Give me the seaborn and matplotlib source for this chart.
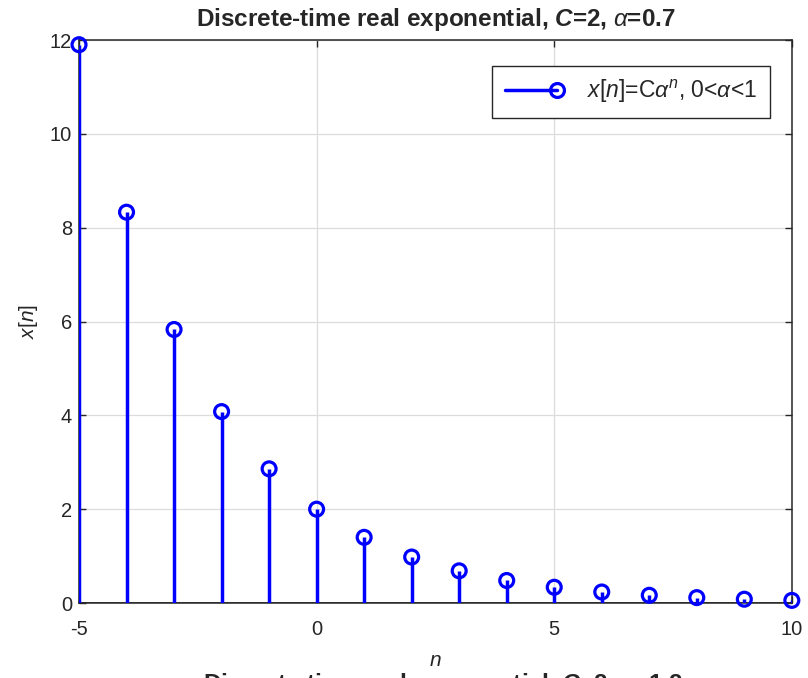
import matplotlib
matplotlib.use("Agg")
import matplotlib.pyplot as plt
import seaborn as sns
import pandas as pd
from matplotlib.lines import Line2D
from matplotlib.legend_handler import HandlerLine2D

n_vals = [-5, -4, -3, -2, -1, 0, 1, 2, 3, 4, 5, 6, 7, 8, 9, 10]
x_vals = [11.90, 8.33, 5.83, 4.08, 2.86, 2.00, 1.40, 0.98, 0.686, 0.480,
          0.336, 0.235, 0.165, 0.115, 0.081, 0.056]
xticks = [-5, 0, 5, 10]
yticks = [0, 2, 4, 6, 8, 10, 12]

sns.set_style("white")
plt.rcParams['font.family'] = ['Liberation Sans', 'DejaVu Sans']
plt.rcParams['mathtext.fontset'] = 'custom'
plt.rcParams['mathtext.it'] = 'Liberation Sans:italic'
plt.rcParams['mathtext.rm'] = 'Liberation Sans'
plt.rcParams['mathtext.bf'] = 'Liberation Sans:bold'
plt.rcParams['mathtext.bfit'] = 'Liberation Sans:bold:italic'

df = pd.DataFrame({"n": n_vals, "x": x_vals})

fig = plt.figure(figsize=(8.08, 6.78), dpi=100)
ax = fig.add_axes([0.0978, 0.1106, 0.8822, 0.8304])

blue = "#0000ff"
ax.vlines(df["n"], 0, df["x"], color=blue, linewidth=2.5, zorder=3)
sns.scatterplot(data=df, x="n", y="x", ax=ax, marker="o", s=100,
                facecolor="none", edgecolor=blue, linewidth=2.3, zorder=4,
                legend=False, clip_on=False)
ax.axhline(0, color="#262626", linewidth=1.2, zorder=2)

ax.set_xlim(-5, 10)
ax.set_ylim(0, 12)
ax.set_xticks(xticks)
ax.set_yticks(yticks)
ax.set_xticklabels([str(t) for t in xticks])
ax.set_yticklabels([str(t) for t in yticks])
ax.grid(True, color="#dcdcdc", linewidth=0.9)
ax.set_axisbelow(True)
for s in ax.spines.values():
    s.set_color("#262626")
    s.set_linewidth(1.1)
ax.tick_params(direction="in", length=5, width=1, colors="#262626",
               labelsize=14.5, labelcolor="#262626", top=True, right=True,
               bottom=True, left=True, pad=5)
ax.tick_params(axis='x', pad=12)

ax.set_xlabel("$n$", fontsize=15, color="#262626", labelpad=9)
ax.set_ylabel("$x[n]$", fontsize=15, color="#262626", labelpad=7)
ax.set_title(r"Discrete-time real exponential, $\mathbfit{C}$=2, $\alpha$=0.7",
             fontsize=17.5, fontweight="bold", pad=10)


class RightMarkerHandler(HandlerLine2D):
    def create_artists(self, legend, orig_handle, xdescent, ydescent,
                       width, height, fontsize, trans):
        y = height / 2 - ydescent
        x0 = -xdescent
        line = Line2D([x0, x0 + width * 0.88], [y, y], color=blue, linewidth=2.5)
        mk = Line2D([x0 + width * 0.88], [y], marker="o", markersize=10,
                    markerfacecolor="none", markeredgecolor=blue,
                    markeredgewidth=2.3, linestyle="none")
        line.set_transform(trans)
        mk.set_transform(trans)
        return [line, mk]


handle = Line2D([0], [0], color=blue, linewidth=2.5, marker="o", markersize=10,
                markerfacecolor="none", markeredgecolor=blue, markeredgewidth=2.3)
leg = ax.legend([handle], [r"$x[n]$=C$\alpha^n$, 0<$\alpha$<1"], loc="upper right",
                fontsize=16.5, frameon=True, fancybox=False, edgecolor="#262626",
                framealpha=1, borderpad=0.55, handlelength=2.6, handletextpad=1.0,
                bbox_to_anchor=(0.985, 0.975),
                handler_map={handle: RightMarkerHandler()})
leg.get_frame().set_linewidth(1.0)

fig.text(0.548, 0.010, r"Discrete-time real exponential, $\mathbfit{C}$=2, $\alpha$=1.2",
         ha="center", va="top", fontsize=17.5, fontweight="bold")

fig.savefig("out.png", dpi=100)
